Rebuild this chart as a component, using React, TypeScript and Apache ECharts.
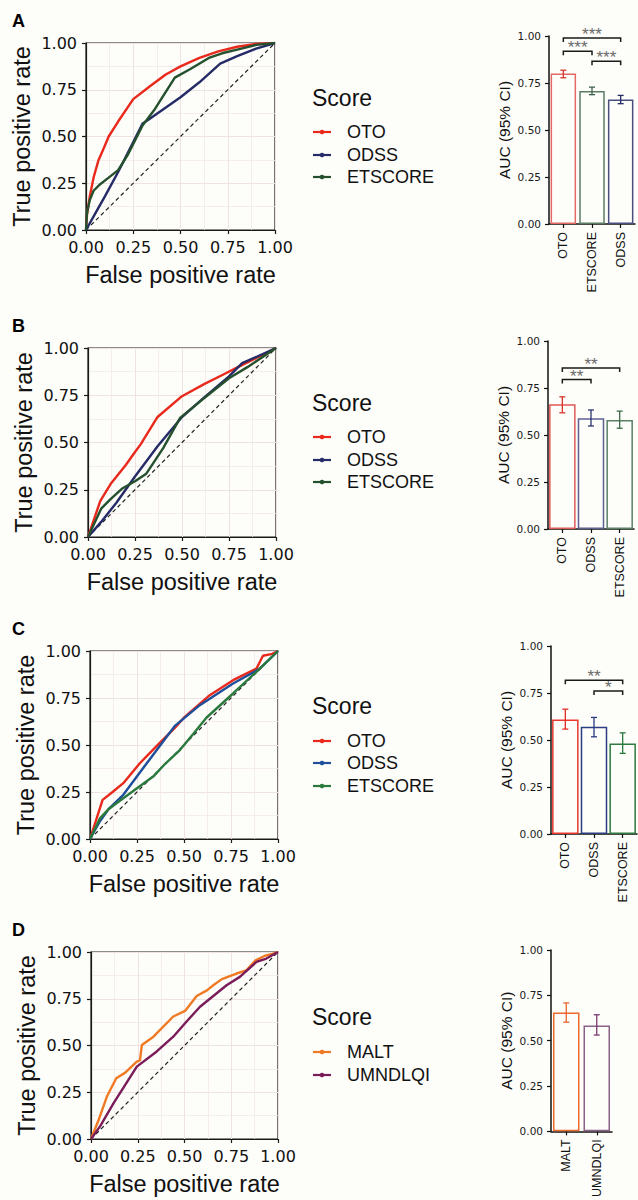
import React, { useEffect, useRef } from "react";
import * as echarts from "echarts";

// ---------- DATA ----------
// ROC curves: [false positive rate, true positive rate]
const rocA_OTO = [[0,0],[0.005,0.08],[0.02,0.18],[0.04,0.28],[0.065,0.37],[0.095,0.44],[0.12,0.5],[0.17,0.58],[0.25,0.7],[0.34,0.77],[0.42,0.83],[0.5,0.875],[0.6,0.92],[0.7,0.955],[0.8,0.98],[0.9,0.995],[1,1]];
const rocA_ODSS = [[0,0],[0.05,0.09],[0.1,0.18],[0.17,0.31],[0.23,0.43],[0.3,0.57],[0.33,0.59],[0.5,0.71],[0.6,0.79],[0.71,0.89],[0.8,0.93],[0.9,0.97],[1,1]];
const rocA_ETSCORE = [[0,0],[0.005,0.09],[0.02,0.16],[0.04,0.21],[0.075,0.245],[0.12,0.28],[0.17,0.32],[0.22,0.4],[0.3,0.56],[0.36,0.64],[0.47,0.815],[0.55,0.86],[0.65,0.92],[0.72,0.945],[0.8,0.965],[0.9,0.99],[1,1]];

const rocB_OTO = [[0,0],[0.065,0.19],[0.12,0.28],[0.2,0.38],[0.25,0.45],[0.28,0.49],[0.37,0.635],[0.5,0.745],[0.62,0.81],[0.72,0.86],[0.8,0.9],[0.9,0.95],[1,1]];
const rocB_ODSS = [[0,0],[0.07,0.08],[0.15,0.18],[0.25,0.32],[0.37,0.48],[0.5,0.635],[0.62,0.74],[0.75,0.85],[0.82,0.92],[0.9,0.955],[1,1]];
const rocB_ETSCORE = [[0,0],[0.07,0.15],[0.12,0.2],[0.18,0.255],[0.25,0.295],[0.31,0.335],[0.4,0.47],[0.49,0.63],[0.6,0.72],[0.75,0.84],[0.85,0.9],[1,1]];

const rocC_OTO = [[0,0],[0.067,0.208],[0.12,0.25],[0.177,0.297],[0.265,0.403],[0.35,0.49],[0.45,0.59],[0.504,0.65],[0.637,0.765],[0.761,0.845],[0.885,0.906],[0.92,0.975],[0.97,0.985],[1,1]];
const rocC_ODSS = [[0,0],[0.05,0.09],[0.1,0.16],[0.177,0.235],[0.3,0.4],[0.45,0.6],[0.584,0.712],[0.761,0.827],[0.903,0.906],[1,1]];
const rocC_ETSCORE = [[0,0],[0.053,0.11],[0.1,0.16],[0.177,0.217],[0.25,0.27],[0.336,0.332],[0.4,0.4],[0.478,0.473],[0.55,0.56],[0.619,0.645],[0.761,0.774],[0.885,0.889],[1,1]];

const rocD_MALT = [[0,0],[0.04,0.1],[0.085,0.227],[0.135,0.325],[0.183,0.355],[0.245,0.414],[0.262,0.42],[0.272,0.503],[0.334,0.547],[0.44,0.655],[0.503,0.685],[0.565,0.765],[0.62,0.795],[0.654,0.822],[0.7,0.855],[0.778,0.885],[0.831,0.902],[0.88,0.955],[0.93,0.98],[0.97,0.99],[1,1]];
const rocD_UMNDLQI = [[0,0],[0.05,0.07],[0.12,0.19],[0.245,0.387],[0.35,0.467],[0.44,0.547],[0.51,0.627],[0.583,0.707],[0.725,0.822],[0.796,0.867],[0.885,0.947],[0.938,0.965],[1,1]];

const diagonal = [[0,0],[1,1]];

// AUC bar charts
const barA_cats = ["OTO", "ETSCORE", "ODSS"];
const barA_auc = [0.80, 0.708, 0.662];
const barA_lo = [0.778, 0.688, 0.64];
const barA_hi = [0.818, 0.728, 0.684];
const barA_sig = [[0, 2, 0.989], [0, 1, 0.919], [1, 2, 0.866]];
const barA_sigLabels = ["***", "***", "***"];

const barB_cats = ["OTO", "ODSS", "ETSCORE"];
const barB_auc = [0.663, 0.589, 0.58];
const barB_lo = [0.618, 0.548, 0.536];
const barB_hi = [0.703, 0.633, 0.627];
const barB_sig = [[0, 2, 0.857], [0, 1, 0.795]];
const barB_sigLabels = ["**", "**"];

const barC_cats = ["OTO", "ODSS", "ETSCORE"];
const barC_auc = [0.609, 0.57, 0.482];
const barC_lo = [0.558, 0.517, 0.429];
const barC_hi = [0.664, 0.62, 0.538];
const barC_sig = [[0, 2, 0.818], [1, 2, 0.761]];
const barC_sigLabels = ["**", "*"];

const barD_cats = ["MALT", "UMNDLQI"];
const barD_auc = [0.655, 0.584];
const barD_lo = [0.602, 0.531];
const barD_hi = [0.708, 0.643];

// ---------- STYLE ----------
const BG = "#fdfdf9";
const SANS = "'Liberation Sans', Arial, Helvetica, sans-serif";
const TICKFONT = "'DejaVu Sans', sans-serif";
const RED = "#e8291c";
const NAVY = "#252b66";
const DKGREEN = "#25502e";
const BLUE = "#1f4f9a";
const GREEN = "#2a7a3e";
const ORANGE = "#f07a24";
const PURPLE = "#7a1c5a";

type Panel = {
  label: string;
  grid: { left: number; top: number; width: number; height: number };
  lines: { name: string; data: number[][]; color: string }[];
  legendY: number;
  itemsY: number[];
  bar: {
    grid: { left: number; top: number; width: number; height: number };
    cats: string[];
    auc: number[];
    lo: number[];
    hi: number[];
    border: string[];
    err: string[];
    barWidth: number;
    sig: number[][];
    sigLabels: string[];
  };
};

const panels: Panel[] = [
  {
    label: "A",
    grid: { left: 86, top: 43, width: 189, height: 187 },
    lines: [
      { name: "OTO", data: rocA_OTO, color: RED },
      { name: "ODSS", data: rocA_ODSS, color: NAVY },
      { name: "ETSCORE", data: rocA_ETSCORE, color: DKGREEN },
    ],
    legendY: 98,
    itemsY: [132, 155, 177],
    bar: {
      grid: { left: 549, top: 36, width: 86, height: 188 },
      cats: barA_cats, auc: barA_auc, lo: barA_lo, hi: barA_hi,
      border: ["#e26a66", "#5d7c66", "#4a4f80"],
      err: ["#d8352c", "#3d5e47", "#262c66"],
      barWidth: 25.5, sig: barA_sig, sigLabels: barA_sigLabels,
    },
  },
  {
    label: "B",
    grid: { left: 88, top: 348, width: 188, height: 189 },
    lines: [
      { name: "OTO", data: rocB_OTO, color: RED },
      { name: "ODSS", data: rocB_ODSS, color: NAVY },
      { name: "ETSCORE", data: rocB_ETSCORE, color: DKGREEN },
    ],
    legendY: 403,
    itemsY: [437, 460, 482],
    bar: {
      grid: { left: 548, top: 341, width: 86, height: 188 },
      cats: barB_cats, auc: barB_auc, lo: barB_lo, hi: barB_hi,
      border: ["#e05a55", "#5d6290", "#5a8066"],
      err: ["#d8352c", "#2c3470", "#3d6a4a"],
      barWidth: 26.5, sig: barB_sig, sigLabels: barB_sigLabels,
    },
  },
  {
    label: "C",
    grid: { left: 90, top: 651, width: 188, height: 188 },
    lines: [
      { name: "OTO", data: rocC_OTO, color: RED },
      { name: "ODSS", data: rocC_ODSS, color: BLUE },
      { name: "ETSCORE", data: rocC_ETSCORE, color: GREEN },
    ],
    legendY: 706,
    itemsY: [741, 763, 786],
    bar: {
      grid: { left: 551, top: 646, width: 86, height: 188 },
      cats: barC_cats, auc: barC_auc, lo: barC_lo, hi: barC_hi,
      border: ["#ea3a30", "#2d3d82", "#2e7a40"],
      err: ["#e22a20", "#2a3a80", "#2a7a3c"],
      barWidth: 26.5, sig: barC_sig, sigLabels: barC_sigLabels,
    },
  },
  {
    label: "D",
    grid: { left: 91, top: 952, width: 187, height: 187 },
    lines: [
      { name: "MALT", data: rocD_MALT, color: ORANGE },
      { name: "UMNDLQI", data: rocD_UMNDLQI, color: PURPLE },
    ],
    legendY: 1017,
    itemsY: [1052, 1075],
    bar: {
      grid: { left: 551, top: 950, width: 61, height: 188 },
      cats: barD_cats, auc: barD_auc, lo: barD_lo, hi: barD_hi,
      border: ["#ee6a2c", "#8a6288"],
      err: ["#e8642a", "#7a3a70"],
      barWidth: 26.5, sig: [], sigLabels: [],
    },
  },
];

function buildOption() {
  const grids: any[] = [];
  const xAxes: any[] = [];
  const yAxes: any[] = [];
  const series: any[] = [];
  const graphics: any[] = [];

  panels.forEach((p) => {
    // ROC grid
    const rocIdx = grids.length;
    grids.push({ ...p.grid, show: true, borderColor: "#1a1a1a", borderWidth: 1.2, backgroundColor: "transparent", containLabel: false });
    const axisCommon = {
      type: "value", min: 0, max: 1, interval: 0.25,
      axisLine: { show: true, lineStyle: { color: "#1a1a1a", width: 1.2 } },
      axisTick: { show: true, length: 4, lineStyle: { color: "#1a1a1a", width: 1.2 } },
      minorTick: { show: false, splitNumber: 2 },
      splitLine: { show: true, lineStyle: { color: "#eee2e2", width: 1 } },
      minorSplitLine: { show: true, lineStyle: { color: "#f2e8e8", width: 0.8 } },
      nameTextStyle: { fontFamily: SANS, fontSize: 23.5, color: "#111" },
    };
    xAxes.push({
      ...axisCommon, gridIndex: rocIdx,
      name: "False positive rate", nameLocation: "middle", nameGap: 33,
      axisLabel: { formatter: (v: number) => v.toFixed(2), fontFamily: TICKFONT, fontSize: 16, color: "#111", margin: 9 },
    });
    yAxes.push({
      ...axisCommon, gridIndex: rocIdx,
      name: "True positive rate", nameLocation: "middle", nameGap: 52,
      axisLabel: { formatter: (v: number) => v.toFixed(2), fontFamily: TICKFONT, fontSize: 16, color: "#111", margin: 9 },
    });
    series.push({
      type: "line", name: "diagonal", xAxisIndex: rocIdx, yAxisIndex: rocIdx,
      data: diagonal, symbol: "none", silent: true,
      lineStyle: { color: "#222", width: 1.2, type: [4, 3] }, z: 2,
    });
    p.lines.forEach((l) => {
      series.push({
        type: "line", name: l.name, xAxisIndex: rocIdx, yAxisIndex: rocIdx,
        data: l.data, symbol: "none", smooth: false,
        lineStyle: { color: l.color, width: 2.4 }, itemStyle: { color: l.color }, z: 3,
      });
    });

    // Bar grid
    const b = p.bar;
    const barIdx = grids.length;
    grids.push({ ...b.grid, show: false, containLabel: false });
    xAxes.push({
      type: "category", gridIndex: barIdx, data: b.cats,
      axisLine: { show: true, lineStyle: { color: "#111", width: 1.5 } },
      axisTick: { show: true, alignWithLabel: true, length: 4, lineStyle: { color: "#111", width: 1.2 } },
      axisLabel: { rotate: 90, fontFamily: SANS, fontSize: 12.5, color: "#111", margin: 8, interval: 0 },
      splitLine: { show: false },
    });
    yAxes.push({
      type: "value", gridIndex: barIdx, min: 0, max: 1, interval: 0.25,
      axisLine: { show: true, lineStyle: { color: "#111", width: 1.5 } },
      axisTick: { show: true, length: 4, lineStyle: { color: "#111", width: 1.2 } },
      axisLabel: { formatter: (v: number) => v.toFixed(2), fontFamily: TICKFONT, fontSize: 10.5, color: "#1a1a1a", margin: 8 },
      splitLine: { show: false },
      name: "AUC (95% CI)", nameLocation: "middle", nameGap: 37,
      nameTextStyle: { fontFamily: SANS, fontSize: 15.5, color: "#111" },
    });
    series.push({
      type: "bar", xAxisIndex: barIdx, yAxisIndex: barIdx, barWidth: b.barWidth,
      data: b.auc.map((v, i) => ({ value: v, itemStyle: { color: BG, borderColor: b.border[i], borderWidth: 1.5 } })),
      z: 2,
    });
    const errColors = b.err;
    series.push({
      type: "custom", xAxisIndex: barIdx, yAxisIndex: barIdx, z: 4,
      data: b.cats.map((_, i) => [i, b.lo[i], b.hi[i]]),
      encode: { x: 0, y: [1, 2] },
      renderItem: (params: any, api: any) => {
        const lo = api.coord([api.value(0), api.value(1)]);
        const hi = api.coord([api.value(0), api.value(2)]);
        const c = errColors[params.dataIndex];
        const st = { stroke: c, lineWidth: 1.3 };
        return {
          type: "group",
          children: [
            { type: "line", shape: { x1: lo[0], y1: lo[1], x2: hi[0], y2: hi[1] }, style: st },
            { type: "line", shape: { x1: lo[0] - 3, y1: lo[1], x2: lo[0] + 3, y2: lo[1] }, style: st },
            { type: "line", shape: { x1: hi[0] - 3, y1: hi[1], x2: hi[0] + 3, y2: hi[1] }, style: st },
          ],
        };
      },
    });
    if (b.sig.length) {
      const labels = b.sigLabels;
      series.push({
        type: "custom", xAxisIndex: barIdx, yAxisIndex: barIdx, z: 5,
        data: b.sig,
        encode: { x: [0, 1], y: 2 },
        renderItem: (params: any, api: any) => {
          const p1 = api.coord([api.value(0), api.value(2)]);
          const p2 = api.coord([api.value(1), api.value(2)]);
          const st = { stroke: "#1a1a1a", lineWidth: 1.5, fill: "none" };
          return {
            type: "group",
            children: [
              { type: "polyline", shape: { points: [[p1[0], p1[1] + 4], [p1[0], p1[1]], [p2[0], p2[1]], [p2[0], p2[1] + 4]] }, style: st },
              { type: "text", x: (p1[0] + p2[0]) / 2, y: p1[1] + 5, style: { text: labels[params.dataIndex], fill: "#6a6a6a", fontSize: 17, fontFamily: SANS, align: "center", verticalAlign: "bottom" } },
            ],
          };
        },
      });
    }

    // Panel label
    graphics.push({
      type: "text", x: 12, y: p.grid.top - 31,
      style: { text: p.label, fontFamily: SANS, fontSize: 18, fontWeight: "bold", fill: "#000", verticalAlign: "top" },
    });
    // Legend
    graphics.push({
      type: "text", x: 312, y: p.legendY,
      style: { text: "Score", fontFamily: SANS, fontSize: 23, fill: "#111", verticalAlign: "middle" },
    });
    p.lines.forEach((l, i) => {
      const y = p.itemsY[i];
      graphics.push({ type: "line", shape: { x1: 313, y1: y, x2: 331, y2: y }, style: { stroke: l.color, lineWidth: 2.2 } });
      graphics.push({ type: "circle", shape: { cx: 322, cy: y, r: 2.3 }, style: { fill: l.color } });
      graphics.push({
        type: "text", x: 347, y,
        style: { text: l.name, fontFamily: SANS, fontSize: 18, fill: "#111", verticalAlign: "middle" },
      });
    });
  });

  return {
    animation: false,
    backgroundColor: BG,
    grid: grids,
    xAxis: xAxes,
    yAxis: yAxes,
    series,
    graphic: graphics,
  };
}

export default function App() {
  const ref = useRef<HTMLDivElement>(null);
  useEffect(() => {
    document.body.style.margin = "0";
    document.body.style.background = BG;
    if (!ref.current) return;
    const chart = echarts.init(ref.current, undefined, { renderer: "svg" });
    chart.setOption(buildOption() as any);
    return () => chart.dispose();
  }, []);
  return <div ref={ref} style={{ width: 638, height: 1200, background: BG }} />;
}
